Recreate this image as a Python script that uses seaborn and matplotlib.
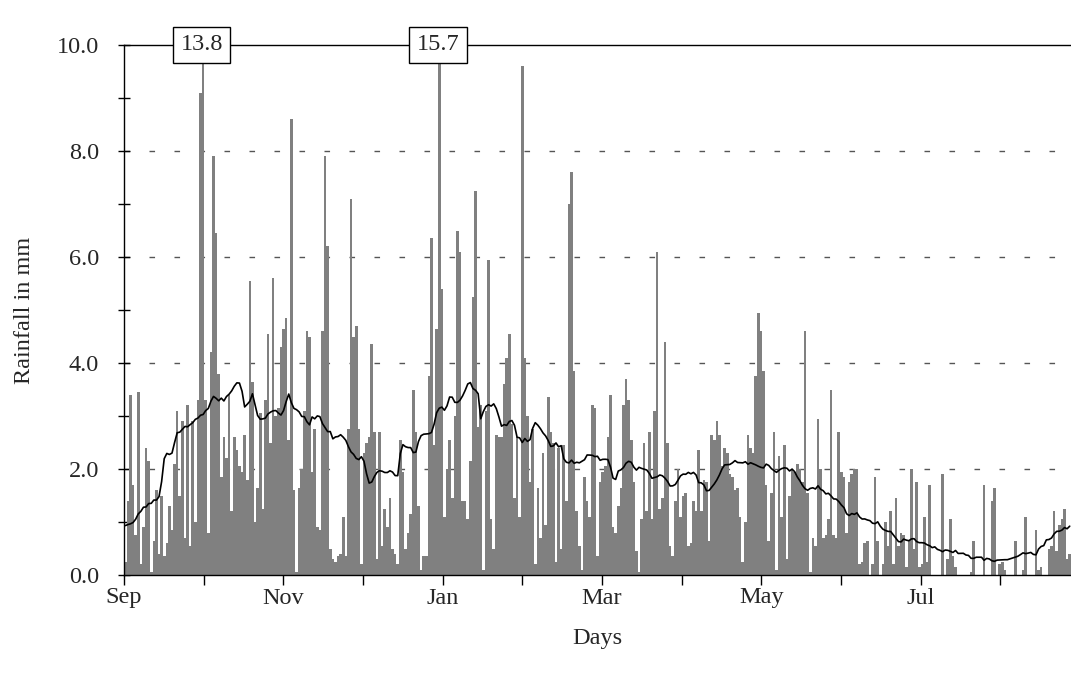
import numpy as np
import pandas as pd
import matplotlib
matplotlib.use("Agg")
import matplotlib.pyplot as plt
from matplotlib import font_manager as fm
import seaborn as sns

# Daily rainfall (mm), one list per month of the season Sep..Aug
sep = [0.25, 1.4, 3.4, 1.7, 0.75, 3.45, 0.2, 0.9, 2.4, 2.15, 0.05, 0.65, 1.6, 0.4, 1.5,
       0.35, 0.6, 1.3, 0.85, 2.1, 3.1, 1.5, 2.9, 0.7, 3.2, 0.55, 2.9, 1.0, 3.3, 9.1]
oct_ = [13.8, 3.3, 0.8, 4.2, 7.9, 6.45, 3.8, 1.85, 2.6, 2.2, 3.4, 1.2, 2.6, 2.35, 2.05,
        1.95, 2.65, 1.8, 5.55, 3.65, 1.0, 1.65, 3.05, 1.25, 3.3, 4.55, 2.5, 5.6, 3.0, 3.15, 4.3]
nov = [4.65, 4.85, 2.55, 8.6, 1.6, 0.05, 1.65, 2.0, 3.1, 4.6, 4.5, 1.95, 2.75, 0.9, 0.85,
       4.6, 7.9, 6.2, 0.5, 0.3, 0.25, 0.35, 0.4, 1.1, 0.35, 2.75, 7.1, 4.5, 4.7, 2.75]
dec = [0.2, 2.3, 2.5, 2.6, 4.35, 2.7, 0.3, 2.7, 0.55, 1.25, 0.9, 1.45, 0.5, 0.4, 0.2,
       2.55, 1.95, 0.5, 0.8, 1.15, 3.5, 2.7, 1.3, 0.1, 0.35, 0.35, 3.75, 6.35, 2.45, 4.65, 15.7]
jan = [5.4, 1.1, 2.0, 2.55, 1.45, 3.0, 6.5, 6.1, 1.4, 1.4, 1.05, 2.15, 5.25, 7.25, 2.8,
       3.2, 0.1, 3.1, 5.95, 1.05, 0.5, 2.65, 2.6, 2.6, 3.6, 4.1, 4.55, 2.85, 1.45, 2.6, 1.1]
feb = [9.6, 4.1, 3.0, 1.75, 2.75, 0.2, 1.65, 0.7, 2.3, 0.95, 3.35, 2.7, 2.5, 0.25,
       2.4, 0.5, 2.45, 1.4, 7.0, 7.6, 3.85, 1.2, 0.55, 0.1, 1.85, 1.4, 1.1, 3.2]
mar = [3.15, 0.35, 1.75, 1.95, 2.05, 2.6, 3.4, 0.9, 0.8, 1.3, 1.65, 3.2, 3.7, 3.3, 2.55,
       1.75, 0.45, 0.05, 1.05, 2.5, 1.2, 2.7, 1.05, 3.1, 6.1, 1.25, 1.45, 4.4, 2.5, 0.55, 0.35]
apr = [1.4, 2.0, 1.1, 1.5, 1.55, 0.55, 0.6, 1.4, 1.2, 2.35, 1.2, 1.8, 1.75, 0.65, 2.65,
       2.55, 2.9, 2.65, 2.05, 2.4, 2.3, 1.9, 1.85, 1.6, 1.65, 1.1, 0.25, 1.0, 2.65, 2.4]
may = [2.3, 3.75, 4.95, 4.6, 3.85, 1.7, 0.65, 1.55, 2.7, 0.1, 2.25, 1.1, 2.45, 0.3, 1.5,
       2.0, 1.95, 2.1, 2.0, 1.75, 4.6, 1.55, 0.05, 0.7, 0.55, 2.95, 2.0, 0.7, 0.75, 1.05, 3.5]
jun = [0.75, 0.7, 2.7, 1.95, 1.85, 0.8, 1.75, 1.9, 2.0, 2.0, 0.2, 0.25, 0.6, 0.65, 0.0,
       0.2, 1.85, 0.65, 0.0, 0.2, 1.0, 0.55, 1.2, 0.2, 1.45, 0.55, 0.8, 0.75, 0.15, 0.65]
jul = [2.0, 0.5, 1.75, 0.15, 0.2, 1.1, 0.25, 1.7, 0.0, 0.0, 0.0, 0.0, 1.9, 0.0, 0.3,
       1.05, 0.35, 0.15, 0.0, 0.0, 0.0, 0.0, 0.0, 0.05, 0.65, 0.0, 0.0, 0.0, 1.7, 0.0, 0.0]
aug = [1.4, 1.65, 0.0, 0.2, 0.25, 0.1, 0.0, 0.0, 0.0, 0.65, 0.0, 0.0, 0.1, 1.1, 0.0,
       0.0, 0.0, 0.85, 0.1, 0.15, 0.0, 0.0, 0.5, 0.55, 1.2, 0.45, 0.95, 1.05, 1.25, 0.3, 0.4]

month_labels = ["Sep", "", "Nov", "", "Jan", "", "Mar", "", "May", "", "Jul", ""]

rain = np.concatenate([sep, oct_, nov, dec, jan, feb, mar, apr, may, jun, jul, aug])
days = np.arange(len(rain))

# centred 31-day running mean, wrapping round the year
window = 31
half = window // 2
wrapped = np.concatenate([rain[-half:], rain, rain[:half]])
trend = pd.Series(wrapped).rolling(window, center=True).mean().to_numpy()[half:-half]

df = pd.DataFrame({"day": days, "rain": rain, "trend": trend})


def serif_family():
    """Register a Times-metric serif face if one is on the system."""
    for path in fm.findSystemFonts():
        name = path.rsplit("/", 1)[-1].lower()
        if name.startswith("liberationserif-regular"):
            fm.fontManager.addfont(path)
            return fm.FontProperties(fname=path).get_name()
    return "DejaVu Serif"


sns.set_theme(style="white")
serif = serif_family()
plt.rcParams["font.family"] = [serif, "DejaVu Serif"]
fs = 17.5

fig = plt.figure(figsize=(10.71, 6.79), dpi=100)
ax = fig.add_axes([124 / 1071, 1 - 575 / 679, (1071 - 124) / 1071, (575 - 45) / 679])

ymax = 10.0
ax.set_axisbelow(True)
for yv in [2, 4, 6, 8]:
    ax.axhline(yv, color="#555555", lw=1.0, dashes=(4, 14), zorder=0)

sns.barplot(data=df, x="day", y="rain", native_scale=True, width=1.0,
            color="#808080", saturation=1, errorbar=None, linewidth=0, ax=ax)
sns.lineplot(data=df, x="day", y="trend", color="black", linewidth=1.2, ax=ax)

ax.set_xlim(-0.5, len(rain) - 0.5)
ax.set_ylim(0, ymax)

# boxed values for days beyond the top of the scale
for d, v in zip(days, rain):
    if v > ymax:
        ax.annotate(f"{v:.1f}", xy=(d - 0.5, ymax), ha="center", va="center", fontsize=fs,
                    bbox=dict(boxstyle="square,pad=0.3", fc="white", ec="black", lw=1),
                    annotation_clip=False, zorder=5)

# month ticks
step = 30.7
ax.set_xticks([-0.5 + step * k for k in range(12)])
ax.set_xticklabels(month_labels)
ax.set_yticks(np.arange(0, 10.1, 2))
ax.set_yticklabels([f"{v:.1f}" for v in np.arange(0, 10.1, 2)])
ax.set_yticks(np.arange(1, 10, 2), minor=True)
ax.tick_params(axis="x", which="major", direction="out", length=7, width=1, color="black",
               labelsize=fs, pad=2, bottom=True)
ax.tick_params(axis="y", which="both", direction="inout", length=8, width=1, color="black",
               labelsize=fs, pad=14, left=True)

ax.spines["right"].set_visible(False)
for side in ["left", "bottom", "top"]:
    ax.spines[side].set_color("black")
    ax.spines[side].set_linewidth(1.0)

ax.set_xlabel("Days", fontsize=fs, labelpad=14)
ax.set_ylabel("Rainfall in mm", fontsize=fs, labelpad=16)

fig.savefig("out.png", dpi=100)
